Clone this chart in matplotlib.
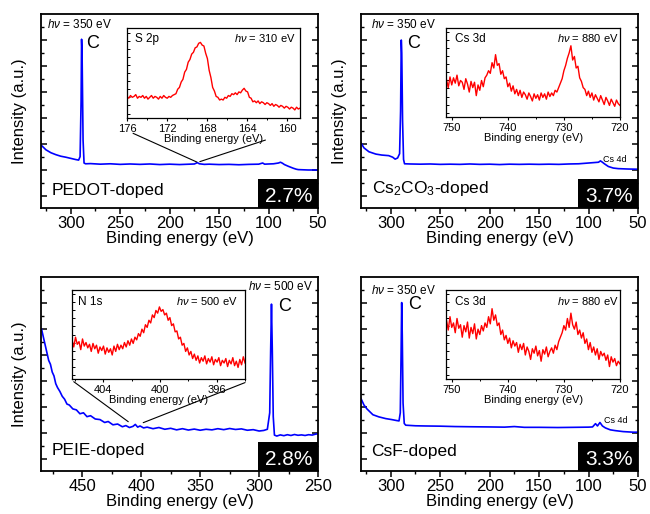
import numpy as np
import matplotlib
matplotlib.use("Agg")
import matplotlib.pyplot as plt
from matplotlib.patches import Rectangle, ConnectionPatch

plt.rcParams['font.family'] = ['Liberation Sans', 'DejaVu Sans']
plt.rcParams['mathtext.fontset'] = 'custom'
plt.rcParams['mathtext.rm'] = 'Liberation Sans'
plt.rcParams['mathtext.it'] = 'Liberation Sans:italic'

# ---------------- data (intensities in arbitrary units) ----------------
# survey spectra
pedot_e = [330, 325, 320, 315, 310, 305, 300, 295, 292, 290.5, 289.5, 289, 288.5, 287.5, 286.5,
           285, 280, 270, 260, 250, 240, 230, 220, 210, 200, 190, 180, 175, 172, 170, 165, 160,
           150, 140, 130, 120, 110, 106, 104, 100, 95, 90, 88, 86, 84, 80, 75, 72, 70, 65, 60, 55, 50]
pedot_i = [0.325, 0.300, 0.285, 0.275, 0.267, 0.262, 0.256, 0.250, 0.247, 0.265, 0.55, 0.87, 0.80, 0.35, 0.232,
           0.228, 0.229, 0.226, 0.228, 0.225, 0.227, 0.225, 0.227, 0.224, 0.226, 0.224, 0.226, 0.227, 0.234, 0.228, 0.225, 0.226,
           0.224, 0.225, 0.223, 0.225, 0.226, 0.232, 0.226, 0.227, 0.228, 0.232, 0.236, 0.231, 0.224, 0.215, 0.205, 0.200, 0.198, 0.197, 0.196, 0.196, 0.195]

cs2co3_e = [330, 327, 322, 315, 309, 302, 298, 295.5, 293, 291, 290, 289.3, 288.8, 288, 287, 286,
            280, 270, 260, 250, 240, 230, 220, 210, 200, 190, 180, 170, 160, 150, 140, 130, 120,
            110, 100, 95, 90, 88, 86, 84, 80, 75, 70, 60, 50]
cs2co3_i = [0.335, 0.310, 0.290, 0.278, 0.273, 0.270, 0.262, 0.252, 0.258, 0.280, 0.50, 0.866, 0.80, 0.45, 0.25, 0.228,
            0.227, 0.226, 0.227, 0.225, 0.226, 0.225, 0.227, 0.225, 0.226, 0.224, 0.226, 0.225, 0.226, 0.225, 0.226, 0.225, 0.227,
            0.228, 0.232, 0.234, 0.236, 0.243, 0.236, 0.228, 0.214, 0.206, 0.203, 0.201, 0.200]

peie_e = [484.5, 483, 481.5, 480, 478.5, 477, 475.5, 474, 472.5, 471, 469, 467, 465, 463, 461, 458, 455,
          452, 449, 446, 443, 439, 435, 431, 428, 424, 420, 416, 413, 410, 407, 405, 403, 401, 398,
          395, 390, 385, 380, 375, 370, 365, 360, 355, 350, 345, 340, 335, 330, 325, 320, 315, 310,
          305, 300, 296, 293, 291, 290.2, 289.5, 288.8, 288, 287, 285, 282, 279, 276, 273, 270, 267,
          264, 261, 258, 255, 252, 250]
peie_i = [0.73, 0.69, 0.65, 0.61, 0.57, 0.55, 0.51, 0.49, 0.45, 0.43, 0.41, 0.385, 0.37, 0.345, 0.34, 0.32, 0.315,
          0.295, 0.30, 0.28, 0.285, 0.268, 0.265, 0.25, 0.255, 0.238, 0.242, 0.228, 0.234, 0.224, 0.230, 0.240, 0.226, 0.232, 0.222,
          0.226, 0.218, 0.224, 0.215, 0.220, 0.212, 0.218, 0.211, 0.216, 0.210, 0.215, 0.212, 0.218, 0.213, 0.219, 0.214, 0.217, 0.210,
          0.213, 0.206, 0.209, 0.215, 0.30, 0.62, 0.86, 0.62, 0.28, 0.185, 0.180, 0.186, 0.182, 0.187, 0.183, 0.188, 0.184,
          0.186, 0.183, 0.187, 0.185, 0.190, 0.192]

csf_e = [330, 327, 324, 318, 312, 305, 299, 294, 291.6, 290.3, 289.5, 288.9, 288.3, 287.5, 286.3, 284.8,
         275, 265, 250, 235, 220, 200, 185, 175, 165, 150, 131, 115, 100, 96, 93, 91, 88.5, 86,
         83, 78, 73, 65, 55, 50]
csf_i = [0.373, 0.340, 0.320, 0.290, 0.279, 0.270, 0.265, 0.260, 0.258, 0.300, 0.60, 0.868, 0.70, 0.35, 0.245, 0.236,
         0.233, 0.232, 0.231, 0.229, 0.228, 0.227, 0.226, 0.229, 0.225, 0.225, 0.224, 0.225, 0.226, 0.227, 0.244, 0.232, 0.250, 0.232,
         0.222, 0.212, 0.208, 0.203, 0.200, 0.200]

# core-level insets (evenly spaced energy grids)
s2p_e = np.linspace(176, 158.7, 100)
s2p_i = [0.24, 0.22, 0.25, 0.23, 0.24, 0.26, 0.22, 0.24, 0.23, 0.25,
         0.22, 0.24, 0.21, 0.23, 0.25, 0.22, 0.24, 0.23, 0.21, 0.24,
         0.22, 0.25, 0.23, 0.22, 0.24, 0.23, 0.25, 0.26, 0.27, 0.32,
         0.34, 0.40, 0.43, 0.51, 0.54, 0.62, 0.65, 0.71, 0.73, 0.78,
         0.79, 0.83, 0.84, 0.81, 0.80, 0.72, 0.66, 0.53, 0.45, 0.34,
         0.30, 0.24, 0.23, 0.20, 0.21, 0.20, 0.23, 0.22, 0.25, 0.24,
         0.27, 0.26, 0.28, 0.26, 0.29, 0.28, 0.31, 0.33, 0.30, 0.29,
         0.23, 0.22, 0.18, 0.19, 0.17, 0.19, 0.16, 0.18, 0.17, 0.15,
         0.17, 0.16, 0.14, 0.16, 0.13, 0.15, 0.14, 0.12, 0.14, 0.13,
         0.11, 0.13, 0.12, 0.10, 0.12, 0.11, 0.09, 0.12, 0.10, 0.11]

cs3d_e = np.linspace(751, 720, 100)
cs3d_a = [0.42, 0.33, 0.45, 0.36, 0.44, 0.38, 0.47, 0.35, 0.41, 0.39,
          0.31, 0.43, 0.37, 0.28, 0.40, 0.33, 0.39, 0.24, 0.36, 0.30,
          0.41, 0.34, 0.44, 0.47, 0.52, 0.49, 0.61, 0.55, 0.70, 0.58,
          0.60, 0.48, 0.52, 0.43, 0.45, 0.34, 0.38, 0.29, 0.35, 0.26,
          0.31, 0.24, 0.30, 0.22, 0.28, 0.25, 0.20, 0.27, 0.23, 0.18,
          0.26, 0.21, 0.25, 0.19, 0.27, 0.22, 0.26, 0.20, 0.28, 0.23,
          0.27, 0.24, 0.30, 0.28, 0.33, 0.38, 0.43, 0.52, 0.58, 0.66,
          0.72, 0.80, 0.64, 0.68, 0.55, 0.57, 0.44, 0.40, 0.33, 0.31,
          0.24, 0.29, 0.22, 0.27, 0.19, 0.25, 0.21, 0.17, 0.24, 0.19,
          0.14, 0.22, 0.18, 0.13, 0.20, 0.16, 0.12, 0.19, 0.15, 0.13]
cs3d_b = [0.66, 0.55, 0.70, 0.58, 0.63, 0.52, 0.68, 0.57, 0.61, 0.47,
          0.60, 0.53, 0.64, 0.46, 0.58, 0.51, 0.62, 0.45, 0.56, 0.50,
          0.60, 0.54, 0.63, 0.58, 0.70, 0.62, 0.79, 0.66, 0.72, 0.60,
          0.63, 0.50, 0.55, 0.44, 0.49, 0.40, 0.46, 0.35, 0.43, 0.37,
          0.41, 0.30, 0.39, 0.33, 0.40, 0.27, 0.36, 0.31, 0.22, 0.34,
          0.29, 0.37, 0.26, 0.32, 0.20, 0.33, 0.28, 0.36, 0.25, 0.31,
          0.35, 0.29, 0.38, 0.33, 0.42, 0.47, 0.52, 0.60, 0.55, 0.68,
          0.58, 0.74, 0.61, 0.56, 0.64, 0.50, 0.55, 0.46, 0.52, 0.40,
          0.45, 0.33, 0.41, 0.30, 0.36, 0.27, 0.34, 0.22, 0.31, 0.26,
          0.29, 0.21, 0.27, 0.14, 0.25, 0.19, 0.23, 0.15, 0.20, 0.17]

n1s_e = np.linspace(406.2, 394.0, 100)
n1s_i = [0.44, 0.36, 0.47, 0.39, 0.42, 0.33, 0.45, 0.37, 0.41, 0.35,
         0.39, 0.31, 0.40, 0.34, 0.38, 0.29, 0.36, 0.32, 0.37, 0.28,
         0.35, 0.30, 0.34, 0.27, 0.37, 0.31, 0.39, 0.33, 0.38, 0.34,
         0.41, 0.36, 0.43, 0.38, 0.45, 0.40, 0.47, 0.44, 0.51, 0.48,
         0.56, 0.52, 0.61, 0.58, 0.66, 0.63, 0.72, 0.69, 0.77, 0.74,
         0.81, 0.76, 0.78, 0.72, 0.74, 0.66, 0.69, 0.60, 0.62, 0.53,
         0.54, 0.45, 0.47, 0.38, 0.40, 0.31, 0.35, 0.27, 0.31, 0.23,
         0.28, 0.21, 0.26, 0.18, 0.24, 0.20, 0.26, 0.17, 0.23, 0.19,
         0.25, 0.16, 0.22, 0.19, 0.24, 0.15, 0.21, 0.18, 0.23, 0.14,
         0.21, 0.17, 0.24, 0.15, 0.20, 0.13, 0.22, 0.16, 0.25, 0.18]

# ---------------- figure ----------------
fig = plt.figure(figsize=(6.5, 5.14), dpi=100)

BLUE = '#0000ff'
RED = '#ff0000'


def main_axes(rect, xlim, xmaj, ylabel=True):
    ax = fig.add_axes(rect)
    ax.set_xlim(*xlim)
    ax.set_ylim(0, 1)
    ax.set_xticks(np.arange(xmaj[0], xmaj[1] - 1, -50))
    ax.set_xticks(np.arange(xmaj[0] + 25, xmaj[1] - 1, -25), minor=True)
    ax.set_yticks(np.arange(0.062, 1, 0.134))
    ax.set_yticks(np.arange(0.129, 1, 0.134), minor=True)
    ax.tick_params(axis='x', which='both', direction='out', top=False, labelsize=12, pad=1.5)
    ax.tick_params(axis='x', which='major', length=4, width=1.1)
    ax.tick_params(axis='x', which='minor', length=2.5, width=1.0)
    ax.tick_params(axis='y', which='both', direction='in', left=True, right=True, labelleft=False)
    ax.tick_params(axis='y', which='major', length=4, width=1.1)
    ax.tick_params(axis='y', which='minor', length=2.5, width=1.0)
    for s in ax.spines.values():
        s.set_linewidth(1.3)
    ax.set_xlabel('Binding energy (eV)', fontsize=12, labelpad=0)
    if ylabel:
        ax.set_ylabel('Intensity (a.u.)', fontsize=12, labelpad=10)
    return ax


def badge(ax, txt):
    ax.add_patch(Rectangle((0.783, 0), 0.217, 0.15, transform=ax.transAxes,
                           facecolor='black', edgecolor='none', zorder=5))
    ax.text(0.895, 0.032, txt, transform=ax.transAxes, color='white', fontsize=15,
            ha='center', va='baseline', zorder=6)


def inset_axes(rect, xlim, xt, xminor):
    ins = fig.add_axes(rect)
    ins.set_xlim(*xlim)
    ins.set_ylim(0, 1)
    ins.set_xticks(xt)
    ins.set_xticks(xminor, minor=True)
    ins.set_yticks(np.arange(0.05, 1, 0.09))
    ins.tick_params(axis='x', which='both', direction='out', labelsize=8, pad=1.5)
    ins.tick_params(axis='x', which='major', length=2.5, width=0.8)
    ins.tick_params(axis='x', which='minor', length=1.5, width=0.7)
    ins.tick_params(axis='y', direction='in', length=2, width=0.7, labelleft=False)
    for s in ins.spines.values():
        s.set_linewidth(0.9)
    ins.set_xlabel('Binding energy (eV)', fontsize=8, labelpad=0)
    return ins


# ---- top left: PEDOT ----
ax1 = main_axes([0.0631, 0.5953, 0.4262, 0.3774], (330, 50), (300, 50))
ax1.plot(pedot_e, pedot_i, color=BLUE, lw=1.2)
ax1.text(0.022, 0.926, r'$h\nu$ = 350 eV', transform=ax1.transAxes, fontsize=8.5, va='baseline')
ax1.text(0.162, 0.823, 'C', transform=ax1.transAxes, fontsize=13, va='baseline')
ax1.text(0.039, 0.067, 'PEDOT-doped', transform=ax1.transAxes, fontsize=12.5, va='baseline')
badge(ax1, '2.7%')

in1 = inset_axes([0.1954, 0.7704, 0.2662, 0.1751], (176, 158.7), [176, 172, 168, 164, 160],
                 [174, 170, 166, 162])
in1.plot(s2p_e, s2p_i, color=RED, lw=1.0)
in1.text(0.046, 0.85, 'S 2p', transform=in1.transAxes, fontsize=8.5, va='baseline')
in1.text(0.975, 0.85, r'$h\nu$ = 310 eV', transform=in1.transAxes, fontsize=8, ha='right', va='baseline')
for xa, xb in [((0.035, -0.17), (172.5, 0.237)), ((0.80, -0.245), (169.5, 0.239))]:
    fig.add_artist(ConnectionPatch(xyA=xa, coordsA=in1.transAxes, xyB=xb, coordsB=ax1.transData,
                                   color='black', lw=0.8))

# ---- top right: Cs2CO3 ----
ax2 = main_axes([0.5554, 0.5953, 0.4262, 0.3774], (330, 50), (300, 50))
ax2.plot(cs2co3_e, cs2co3_i, color=BLUE, lw=1.2)
ax2.text(0.036, 0.926, r'$h\nu$ = 350 eV', transform=ax2.transAxes, fontsize=8.5, va='baseline')
ax2.text(0.168, 0.823, 'C', transform=ax2.transAxes, fontsize=13, va='baseline')
ax2.text(0.874, 0.239, 'Cs 4d', transform=ax2.transAxes, fontsize=6.5, va='baseline')
ax2.text(0.038, 0.075, r'Cs$_2$CO$_3$-doped', transform=ax2.transAxes, fontsize=12.5, va='baseline')
badge(ax2, '3.7%')

in2 = inset_axes([0.6869, 0.7724, 0.2669, 0.1732], (751, 720), [750, 740, 730, 720], [745, 735, 725])
in2.plot(cs3d_e, cs3d_a, color=RED, lw=1.0)
in2.text(0.05, 0.846, 'Cs 3d', transform=in2.transAxes, fontsize=8.5, va='baseline')
in2.text(0.99, 0.846, r'$h\nu$ = 880 eV', transform=in2.transAxes, fontsize=8, ha='right', va='baseline')

# ---- bottom left: PEIE ----
ax3 = main_axes([0.0631, 0.0837, 0.4262, 0.3774], (485, 250), (450, 250))
ax3.plot(peie_e, peie_i, color=BLUE, lw=1.2)
ax3.text(0.982, 0.933, r'$h\nu$ = 500 eV', transform=ax3.transAxes, fontsize=8.5, ha='right', va='baseline')
ax3.text(0.857, 0.824, 'C', transform=ax3.transAxes, fontsize=13, va='baseline')
ax3.text(0.039, 0.083, 'PEIE-doped', transform=ax3.transAxes, fontsize=12.5, va='baseline')
badge(ax3, '2.8%')

in3 = inset_axes([0.1108, 0.2626, 0.2662, 0.1732], (406.2, 394.0), [404, 400, 396], [406, 402, 398, 394])
in3.plot(n1s_e, n1s_i, color=RED, lw=1.0)
in3.text(0.036, 0.83, 'N 1s', transform=in3.transAxes, fontsize=8.5, va='baseline')
in3.text(0.96, 0.83, r'$h\nu$ = 500 eV', transform=in3.transAxes, fontsize=8, ha='right', va='baseline')
for xa, xb in [((0.01, -0.03), (411, 0.254)), ((1.0, -0.04), (398.3, 0.249))]:
    fig.add_artist(ConnectionPatch(xyA=xa, coordsA=in3.transAxes, xyB=xb, coordsB=ax3.transData,
                                   color='black', lw=0.8))

# ---- bottom right: CsF ----
ax4 = main_axes([0.5554, 0.0837, 0.4262, 0.3774], (330, 50), (300, 50), ylabel=False)
ax4.plot(csf_e, csf_i, color=BLUE, lw=1.2)
ax4.text(0.036, 0.913, r'$h\nu$ = 350 eV', transform=ax4.transAxes, fontsize=8.5, va='baseline')
ax4.text(0.170, 0.833, 'C', transform=ax4.transAxes, fontsize=13, va='baseline')
ax4.text(0.878, 0.245, 'Cs 4d', transform=ax4.transAxes, fontsize=6.5, va='baseline')
ax4.text(0.038, 0.078, 'CsF-doped', transform=ax4.transAxes, fontsize=12.5, va='baseline')
badge(ax4, '3.3%')

in4 = inset_axes([0.6869, 0.2626, 0.2669, 0.1732], (751, 720), [750, 740, 730, 720], [745, 735, 725])
in4.plot(cs3d_e, cs3d_b, color=RED, lw=1.0)
in4.text(0.05, 0.83, 'Cs 3d', transform=in4.transAxes, fontsize=8.5, va='baseline')
in4.text(0.99, 0.83, r'$h\nu$ = 880 eV', transform=in4.transAxes, fontsize=8, ha='right', va='baseline')

fig.savefig('out.png', dpi=100)
